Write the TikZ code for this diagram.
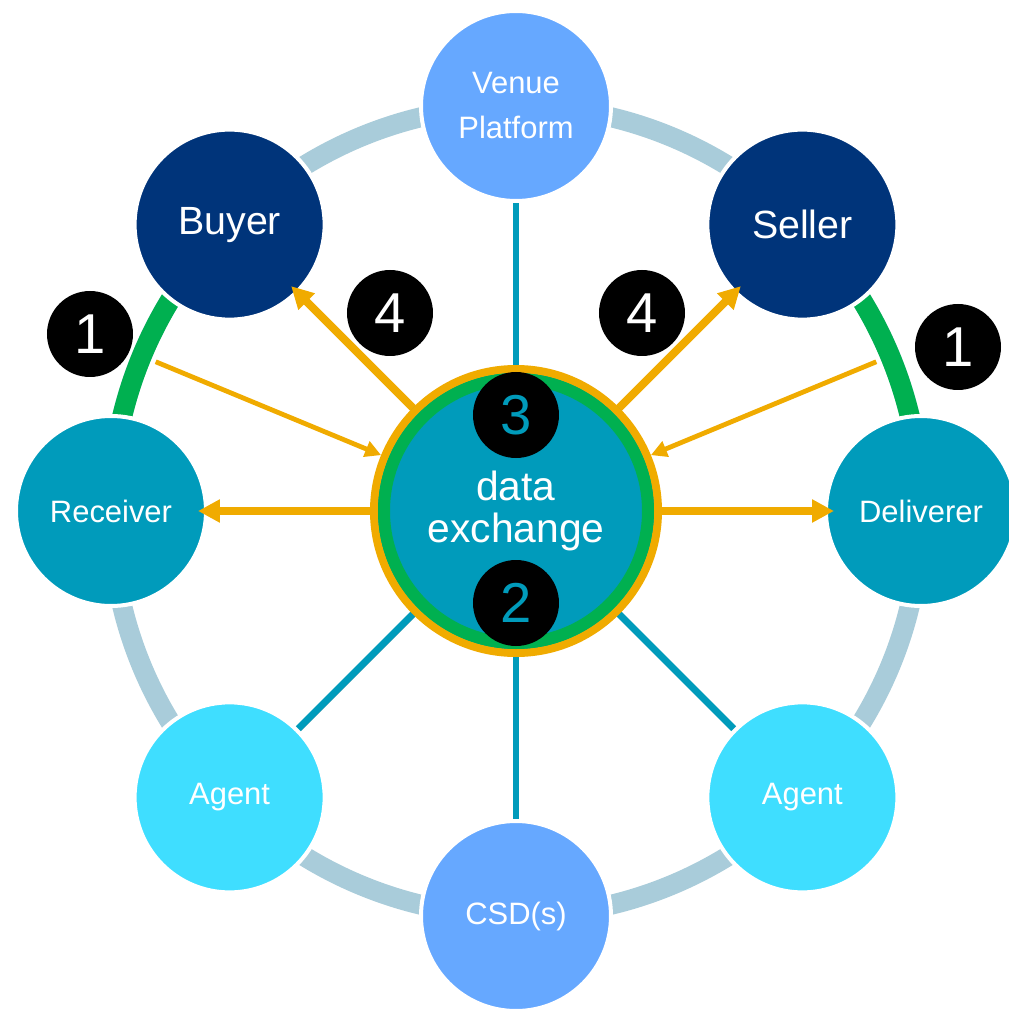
\documentclass[tikz,border=0pt]{standalone}
\usepackage{fontspec}
\setmainfont{Liberation Sans}
\usetikzlibrary{arrows.meta,backgrounds}
\definecolor{navyblue}{HTML}{00347A}
\definecolor{tealblue}{HTML}{009BBB}
\definecolor{agentcyan}{HTML}{3FDEFF}
\definecolor{venueblue}{HTML}{66A8FF}
\definecolor{ringgrey}{HTML}{A9CCDA}
\definecolor{ringgreen}{HTML}{00B050}
\definecolor{flowgold}{HTML}{F0AB00}

\begin{document}
\begin{tikzpicture}[x=1cm,y=1cm,
  party/.style={circle,draw=white,line width=0.1cm,minimum size=4.75cm,inner sep=0pt,text=white,align=center,font=\fontsize{22}{32}\selectfont},
  badge/.style={circle,fill=black,minimum size=2.15cm,inner sep=0pt,text=white,font=\fontsize{40}{40}\selectfont},
  spoke/.style={tealblue,line width=0.17cm,preaction={draw=black!30,transform canvas={shift={(0.06,-0.06)}}}},
  flow/.style={flowgold,line width=0.2cm,-{Triangle[length=0.55cm,width=0.55cm]},shorten >=-0.25cm},
  flowthin/.style={flowgold,line width=0.12cm,-{Triangle[length=0.4cm,width=0.4cm]}}]
\useasboundingbox (-12.9,-12.45) rectangle (12.325,12.775);

\node[circle,fill=tealblue,draw=flowgold,line width=0.2cm,minimum size=7.1cm,text=white,align=center,font=\fontsize{29}{30}\selectfont] (hub) at (0,0) {data\\exchange};
\draw[ringgreen,line width=0.3cm] (hub.center) circle (3.3);

\node[party,fill=venueblue] (venue) at (90:10.125) {Venue\\Platform};
\node[party,fill=navyblue,font=\fontsize{28}{30}\selectfont] (seller) at (45:10.125) {Seller};
\node[party,fill=tealblue] (deliverer) at (0:10.125) {Deliverer};
\node[party,fill=agentcyan] (agentr) at (-45:10.125) {Agent};
\node[party,fill=venueblue] (csd) at (-90:10.125) {CSD(s)};
\node[party,fill=agentcyan] (agentl) at (-135:10.125) {Agent};
\node[party,fill=tealblue] (receiver) at (180:10.125) {Receiver};
\node[party,fill=navyblue,font=\fontsize{28}{30}\selectfont] (buyer) at (135:10.125) {Buyer};

\begin{scope}[on background layer]
\draw[ringgrey,line width=0.5cm] (0,0) circle (10.125);
\draw[ringgreen,line width=0.5cm] (135:10.125) arc[start angle=135,end angle=180,radius=10.125];
\draw[ringgreen,line width=0.5cm] (45:10.125) arc[start angle=45,end angle=0,radius=10.125];
\foreach \n in {venue,seller,deliverer,agentr,csd,agentl,receiver,buyer}
  \draw[spoke] (hub.center) -- (\n.center);
\end{scope}

\coordinate (gleft) at (157.5:9.75);
\coordinate (gright) at (22.5:9.75);
\draw[flow] (hub) -- (buyer);
\draw[flow] (hub) -- (seller);
\draw[flow] (hub) -- (receiver);
\draw[flow] (hub) -- (deliverer);
\draw[flowthin] (gleft) -- (hub);
\draw[flowthin] (gright) -- (hub);

\node[badge,text=tealblue] (three) at (0,2.4) {3};
\node[badge,text=tealblue] (two) at (0,-2.3) {2};
\node[badge] (oneleft) at (-10.65,4.425) {1};
\node[badge] (fourleft) at (-3.15,4.95) {4};
\node[badge] (fourright) at (3.15,4.95) {4};
\node[badge] (oneright) at (11.05,4.1) {1};
\end{tikzpicture}
\end{document}
